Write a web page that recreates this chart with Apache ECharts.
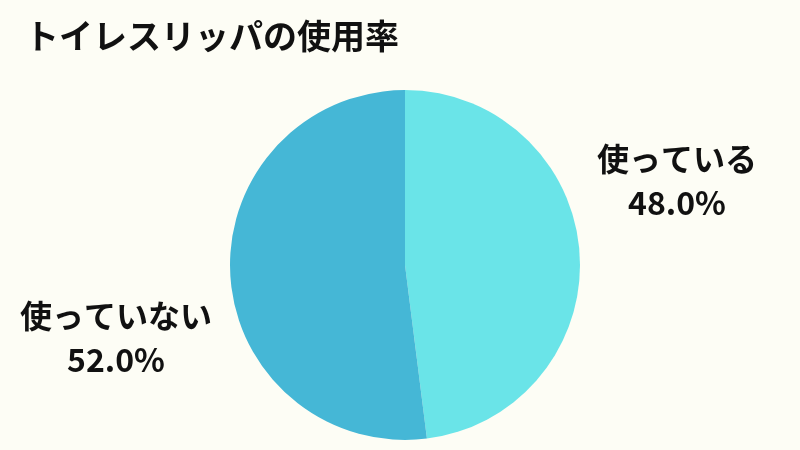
<!DOCTYPE html>
<html><head><meta charset="utf-8">
<script src="https://cdn.jsdelivr.net/npm/echarts@6/dist/echarts.min.js"></script>
<style>html,body{margin:0;padding:0;background:#fdfdf5;}#c{width:800px;height:450px;}</style>
</head><body><div id="c"></div>
<script>
const title = 'トイレスリッパの使用率';
const categories = ['使っている', '使っていない'];
const values = [48.0, 52.0];
const colors = ['#6ae4e8', '#45b7d6'];
const labelPos = [[677, 181], [116, 338]];

const chart = echarts.init(document.getElementById('c'));
chart.setOption({
  backgroundColor: '#fdfdf5',
  animation: false,
  title: {
    text: title, left: 20, top: 14,
    textStyle: { fontFamily: 'Noto Sans CJK JP', fontWeight: 'bold', fontSize: 34, color: '#111' }
  },
  series: [{
    type: 'pie',
    center: [405, 265],
    radius: [0, 175],
    startAngle: 90,
    clockwise: true,
    data: categories.map((n, i) => ({ name: n, value: values[i], itemStyle: { color: colors[i] } })),
    label: {
      show: true,
      position: 'outside',
      formatter: p => p.name + '\n' + p.value.toFixed(1) + '%',
      fontFamily: 'Noto Sans CJK JP',
      fontWeight: 'bold',
      fontSize: 32,
      lineHeight: 44,
      color: '#111',
      align: 'center',
      width: 260,
      overflow: 'none'
    },
    labelLine: { show: false },
    labelLayout: p => ({ x: labelPos[p.dataIndex][0], y: labelPos[p.dataIndex][1], align: 'center', verticalAlign: 'middle' })
  }]
});
</script></body></html>
